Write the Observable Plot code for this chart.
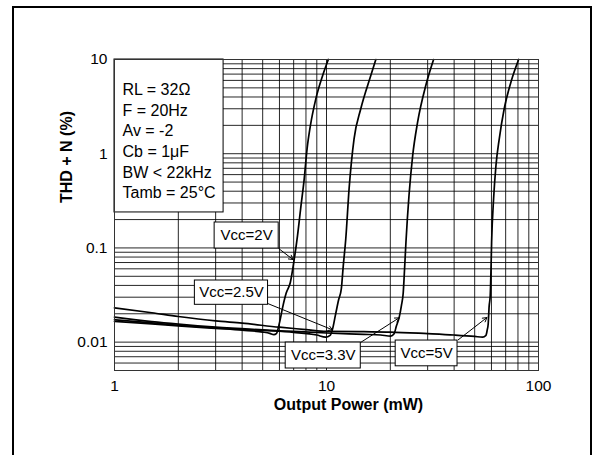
<!DOCTYPE html>
<html><head><meta charset="utf-8">
<script src="https://cdn.jsdelivr.net/npm/d3@7"></script>
<script src="https://cdn.jsdelivr.net/npm/@observablehq/plot@0.6"></script>
<style>
html,body{margin:0;padding:0;background:#fff;overflow:hidden;}
#wrap{position:relative;width:597px;height:455px;font-family:"Liberation Sans",Arial,sans-serif;}
#border{position:absolute;left:12px;top:6px;width:576px;height:470px;border:2px solid #000;z-index:2;pointer-events:none;}
#chart{position:absolute;left:0;top:0;}
</style></head><body>
<div id="wrap"><div id="chart"></div><div id="border"></div></div>
<script>
// Series: Vcc supply voltages
const seriesNames = ["Vcc=2V", "Vcc=2.5V", "Vcc=3.3V", "Vcc=5V"];
// Output power (mW) and THD+N (%) per series
const v2_x  = [1, 1.5, 2, 3, 4, 5, 5.4, 5.65, 5.8, 6.0, 6.2, 6.45, 6.75, 7.05, 7.3, 7.55, 7.85, 8.1, 8.4, 8.9, 9.6, 10.2];
const v2_y  = [0.0166, 0.0156, 0.0149, 0.0140, 0.0134, 0.0128, 0.0124, 0.0120, 0.0123, 0.0160, 0.0230, 0.0330, 0.0430, 0.0770, 0.135, 0.26, 0.54, 1.13, 2.0, 3.8, 6.8, 10];
const v25_x = [1, 1.5, 2, 3, 5, 7, 9, 9.9, 10.4, 10.7, 11.0, 11.4, 11.75, 12.0, 12.33, 12.78, 13.49, 14.51, 16.18, 17.09];
const v25_y = [0.0173, 0.0160, 0.0151, 0.0142, 0.0133, 0.0127, 0.0119, 0.0113, 0.0118, 0.0140, 0.0190, 0.0280, 0.0370, 0.065, 0.125, 0.424, 1.44, 3.0, 6.76, 10];
const v33_x = [1, 1.5, 2, 3, 5, 7, 10, 15, 18, 20.1, 20.8, 21.4, 22.0, 22.6, 23.0, 23.35, 23.7, 24.5, 25.5, 26.9, 29.4, 32.0];
const v33_y = [0.0184, 0.0165, 0.0155, 0.0144, 0.0135, 0.0130, 0.0125, 0.0121, 0.0119, 0.0116, 0.0122, 0.0150, 0.0181, 0.0250, 0.0330, 0.060, 0.115, 0.36, 0.957, 2.16, 5.3, 10];
const v5_x  = [1, 1.5, 2, 3, 4, 6, 8, 10, 15, 20, 30, 40, 50, 54.5, 56.5, 57.3, 57.9, 58.5, 59.2, 59.7, 60.1, 61.4, 63.0, 65.3, 68.9, 74.1, 80.6];
const v5_y  = [0.0231, 0.0205, 0.0187, 0.0168, 0.0159, 0.0144, 0.0136, 0.0130, 0.0129, 0.0128, 0.0123, 0.0119, 0.0115, 0.0113, 0.0118, 0.0135, 0.0156, 0.0240, 0.0312, 0.060, 0.115, 0.332, 0.75, 1.44, 3.0, 5.74, 10];

// Tick labels / grid values
const xTicks = [1, 10, 100];
const yTicks = [0.01, 0.1, 1, 10];
const xGrid = [1,2,3,4,5,6,7,8,9,10,20,30,40,50,60,70,80,90,100];
const yGrid = [0.005,0.006,0.007,0.008,0.009,0.01,0.02,0.03,0.04,0.05,0.06,0.07,0.08,0.09,0.1,0.2,0.3,0.4,0.5,0.6,0.7,0.8,0.9,1,2,3,4,5,6,7,8,9,10];

// Conditions legend
const legendLines = ["RL = 32Ω", "F = 20Hz", "Av = -2", "Cb = 1μF", "BW < 22kHz", "Tamb = 25°C"];
const legendBoxX = [1, 3.27];
const legendBoxY = [0.238, 10];

// Annotation labels (data coordinates)
const annLabel = ["Vcc=2V", "Vcc=2.5V", "Vcc=3.3V", "Vcc=5V"];
const annBoxX1 = [2.967, 2.394, 6.42, 21.2];
const annBoxX2 = [5.95, 5.30, 14.51, 41.5];
const annBoxY1 = [0.0985, 0.0249, 0.00525, 0.00554];
const annBoxY2 = [0.1862, 0.0451, 0.0099, 0.0104];
const annFromX = [5.95, 5.28, 14.51, 41.8];
const annFromY = [0.0985, 0.0257, 0.00995, 0.01058];
const annToX = [6.95, 10.67, 22.0, 57.1];
const annToY = [0.0753, 0.01351, 0.0181, 0.01824];

const seriesX = [v2_x, v25_x, v33_x, v5_x];
const seriesY = [v2_y, v25_y, v33_y, v5_y];
const rows = [];
seriesNames.forEach((name, k) => seriesX[k].forEach((x, i) => rows.push({series: name, x, y: seriesY[k][i]})));

const anns = annLabel.map((label, i) => ({
  label, x1: annBoxX1[i], x2: annBoxX2[i], y1: annBoxY1[i], y2: annBoxY2[i],
  fx: annFromX[i], fy: annFromY[i], tx: annToX[i], ty: annToY[i]
}));

const chart = Plot.plot({
  width: 597, height: 455,
  marginLeft: 114, marginRight: 59, marginTop: 59, marginBottom: 85,
  style: {fontFamily: "'Liberation Sans', Arial, sans-serif", fontSize: "15.5px", background: "transparent", color: "#000"},
  x: {type: "log", domain: [1, 100]},
  y: {type: "log", domain: [0.005, 10]},
  marks: [
    Plot.gridX(xGrid, {stroke: "#000", strokeOpacity: 0.85, strokeWidth: 1}),
    Plot.gridY(yGrid, {stroke: "#000", strokeOpacity: 0.85, strokeWidth: 1}),
    Plot.line(rows, {x: "x", y: "y", z: "series", stroke: "#000", strokeWidth: 1.7, curve: "monotone-x"}),
    Plot.rect([0], {x1: () => legendBoxX[0], x2: () => legendBoxX[1], y1: () => legendBoxY[0], y2: () => legendBoxY[1], fill: "white", stroke: "#000", strokeWidth: 1}),
    Plot.text([legendLines.join("\n")], {text: d => d, frameAnchor: "top-left", textAnchor: "start", lineAnchor: "top", dx: 8, dy: 21, lineHeight: 1.29, fontSize: 16}),
    Plot.rect(anns, {x1: "x1", x2: "x2", y1: "y1", y2: "y2", fill: "white", stroke: "#000", strokeWidth: 1}),
    Plot.text(anns, {x: d => Math.sqrt(d.x1 * d.x2), y: d => Math.sqrt(d.y1 * d.y2), text: "label", fontSize: 15}),
    Plot.arrow(anns, {x1: "fx", y1: "fy", x2: "tx", y2: "ty", stroke: "#000", strokeWidth: 1, headLength: 7}),
    Plot.frame({stroke: "#333", strokeWidth: 1}),
    Plot.axisX(xTicks, {tickSize: 0, tickPadding: 9, tickFormat: d => String(d), label: null, fontSize: 15.5}),
    Plot.axisY(yTicks, {tickSize: 0, tickPadding: 7, tickFormat: d => String(d), label: null, fontSize: 15.5}),
    Plot.text(["Output Power (mW)"], {text: d => d, frameAnchor: "bottom", dx: 22, dy: 39, fontWeight: "bold", fontSize: 16}),
    Plot.text(["THD + N (%)"], {text: d => d, frameAnchor: "left", rotate: -90, dx: -48, dy: -12, fontWeight: "bold", fontSize: 16})
  ]
});
document.getElementById("chart").appendChild(chart);
</script>
</body></html>
